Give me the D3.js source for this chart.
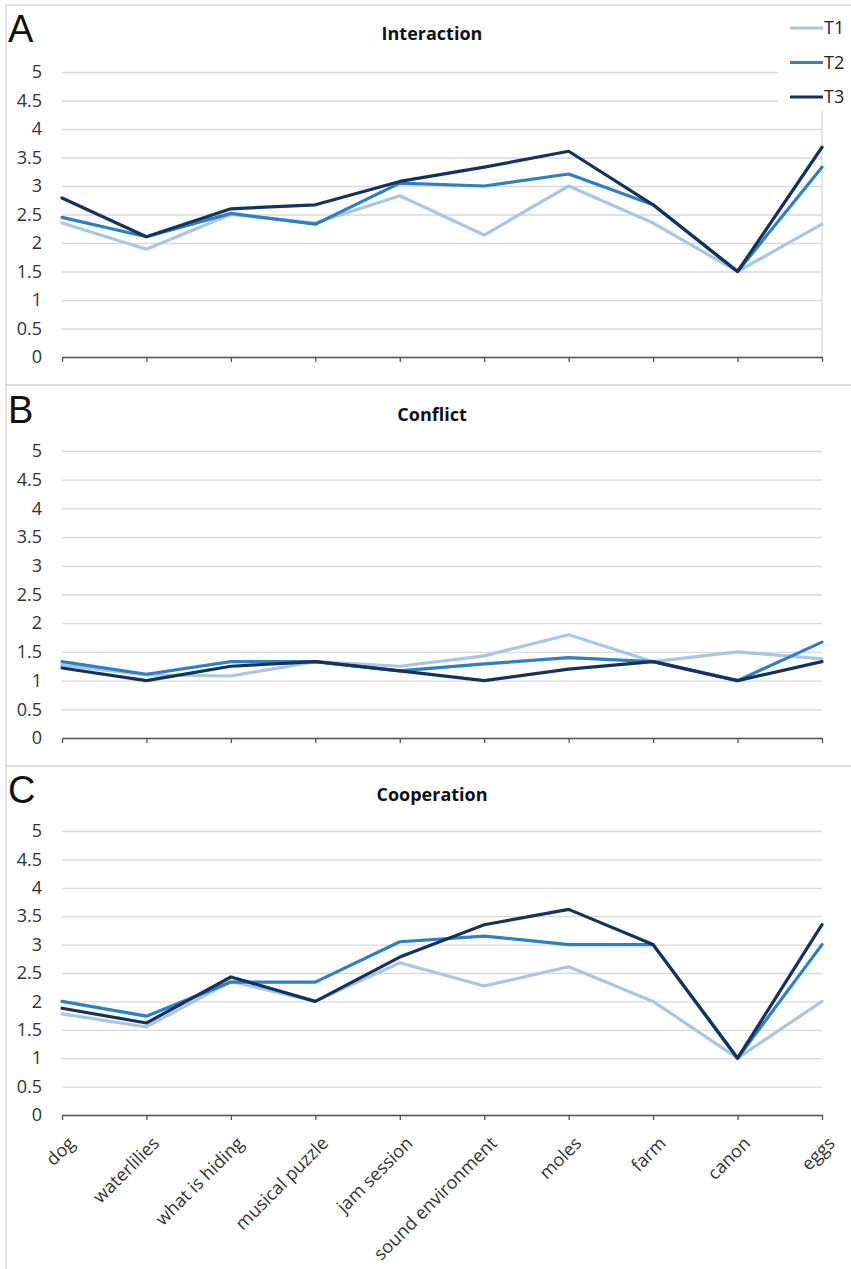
<!DOCTYPE html>
<html>
<head>
<meta charset="utf-8">
<script src="https://cdn.jsdelivr.net/npm/d3@7"></script>
<style>
  body { margin: 0; background: #fff; }
  text { font-family: "Open Sans", sans-serif; }
</style>
</head>
<body>
<svg id="chart"></svg>
<script>
// Data
const categories = ["dog", "waterlilies", "what is hiding", "musical puzzle", "jam session",
    "sound environment", "moles", "farm", "canon", "eggs"];
const seriesNames = ["T1", "T2", "T3"];
const yTicks = [0, 0.5, 1, 1.5, 2, 2.5, 3, 3.5, 4, 4.5, 5];

const interactionT1 = [2.35, 1.89, 2.50, 2.35, 2.83, 2.14, 3.00, 2.35, 1.50, 2.33];
const interactionT2 = [2.45, 2.11, 2.52, 2.33, 3.05, 3.00, 3.21, 2.67, 1.50, 3.33];
const interactionT3 = [2.79, 2.11, 2.60, 2.67, 3.08, 3.33, 3.61, 2.67, 1.50, 3.68];

const conflictT1 = [1.27, 1.10, 1.08, 1.33, 1.25, 1.43, 1.80, 1.33, 1.50, 1.38];
const conflictT2 = [1.33, 1.11, 1.33, 1.33, 1.17, 1.29, 1.40, 1.33, 1.00, 1.67];
const conflictT3 = [1.22, 1.00, 1.25, 1.33, 1.17, 1.00, 1.20, 1.33, 1.00, 1.33];

const cooperationT1 = [1.78, 1.55, 2.35, 2.00, 2.68, 2.27, 2.61, 2.00, 1.00, 2.00];
const cooperationT2 = [2.00, 1.74, 2.34, 2.34, 3.05, 3.15, 3.00, 3.00, 1.00, 3.00];
const cooperationT3 = [1.88, 1.62, 2.43, 2.00, 2.78, 3.35, 3.62, 3.00, 1.00, 3.35];

const colors = ["#a9c6e4", "#2f7fc1", "#15335a"];

// Layout
const width = 851;
const height = 1269;
const plotLeft = 62;
const plotRight = 822;

const panels = [
    {letter: "A", title: "Interaction", boxTop: 5, boxBottom: 385, yZero: 357, yFive: 72,
     letterY: 42, titleY: 40, series: [interactionT1, interactionT2, interactionT3]},
    {letter: "B", title: "Conflict", boxTop: 385, boxBottom: 766, yZero: 738, yFive: 451,
     letterY: 423, titleY: 421, series: [conflictT1, conflictT2, conflictT3]},
    {letter: "C", title: "Cooperation", boxTop: 766, boxBottom: 1275, yZero: 1115, yFive: 831,
     letterY: 803, titleY: 801, series: [cooperationT1, cooperationT2, cooperationT3]}
];

const svg = d3.select("#chart")
    .attr("width", width)
    .attr("height", height)
    .style("background", "#fff");

const x = d3.scalePoint()
    .domain(categories)
    .range([plotLeft, plotRight]);

panels.forEach((p, pi) => {
    const y = d3.scaleLinear()
        .domain([0, 5])
        .range([p.yZero, p.yFive]);

    // Panel frame
    svg.append("rect")
        .attr("x", 6)
        .attr("y", p.boxTop)
        .attr("width", width)
        .attr("height", p.boxBottom - p.boxTop)
        .attr("fill", "none")
        .attr("stroke", "#dcdcdc")
        .attr("stroke-width", 1.5);

    // Gridlines and y labels
    const yAxis = svg.append("g")
        .attr("transform", `translate(${plotLeft},0)`)
        .call(d3.axisLeft(y).tickValues(yTicks).tickSize(-(plotRight - plotLeft)).tickPadding(20)
            .tickFormat(d => d));
    yAxis.select(".domain").remove();
    yAxis.selectAll("line").attr("stroke", "#d9d9d9").attr("stroke-width", 1.3);
    yAxis.selectAll("text")
        .attr("fill", "#333")
        .style("font-size", "18px");

    // Right border of the first plot area
    if (pi === 0) {
        svg.append("line")
            .attr("x1", plotRight).attr("x2", plotRight)
            .attr("y1", p.yFive).attr("y2", p.yZero)
            .attr("stroke", "#d9d9d9")
            .attr("stroke-width", 1.3);
    }

    // Category axis
    const xAxis = svg.append("g")
        .attr("transform", `translate(0,${p.yZero})`)
        .call(d3.axisBottom(x).tickSize(5).tickSizeOuter(0));
    xAxis.select(".domain").attr("stroke", "#555").attr("stroke-width", 1.5);
    xAxis.selectAll("line").attr("stroke", "#555").attr("stroke-width", 1.3);
    if (pi === 2) {
        xAxis.selectAll("text")
            .attr("fill", "#333")
            .style("font-size", "18px")
            .style("text-anchor", "end")
            .attr("dy", "0.35em")
            .attr("transform", "translate(9,25) rotate(-45)")
            .attr("x", 0)
            .attr("y", 0);
    } else {
        xAxis.selectAll("text").remove();
    }

    // Lines
    const line = d3.line()
        .x((d, i) => x(categories[i]))
        .y(d => y(d));

    p.series.forEach((values, si) => {
        svg.append("path")
            .datum(values)
            .attr("fill", "none")
            .attr("stroke", colors[si])
            .attr("stroke-width", 3.2)
            .attr("stroke-linejoin", "round")
            .attr("stroke-linecap", "round")
            .attr("d", line);
    });

    // Panel letter and title
    svg.append("text")
        .attr("x", 8)
        .attr("y", p.letterY)
        .style("font-family", "'Liberation Sans', Arial, sans-serif")
        .style("font-size", "38px")
        .attr("fill", "#111")
        .text(p.letter);

    svg.append("text")
        .attr("x", 432)
        .attr("y", p.titleY)
        .style("text-anchor", "middle")
        .style("font-size", "18px")
        .style("font-weight", "bold")
        .attr("fill", "#111")
        .text(p.title);
});

// Legend (sits over the top right of panel A)
const legend = svg.append("g");
legend.append("rect")
    .attr("x", 778)
    .attr("y", 8)
    .attr("width", 72)
    .attr("height", 103)
    .attr("fill", "#fff");

seriesNames.forEach((name, i) => {
    const ly = 28 + i * 34.5;
    legend.append("line")
        .attr("x1", 790).attr("x2", 823)
        .attr("y1", ly).attr("y2", ly)
        .attr("stroke", colors[i])
        .attr("stroke-width", 3);
    legend.append("text")
        .attr("x", 824)
        .attr("y", ly)
        .attr("dy", "0.35em")
        .attr("fill", "#222")
        .style("font-size", "18px")
        .text(name);
});
</script>
</body>
</html>
